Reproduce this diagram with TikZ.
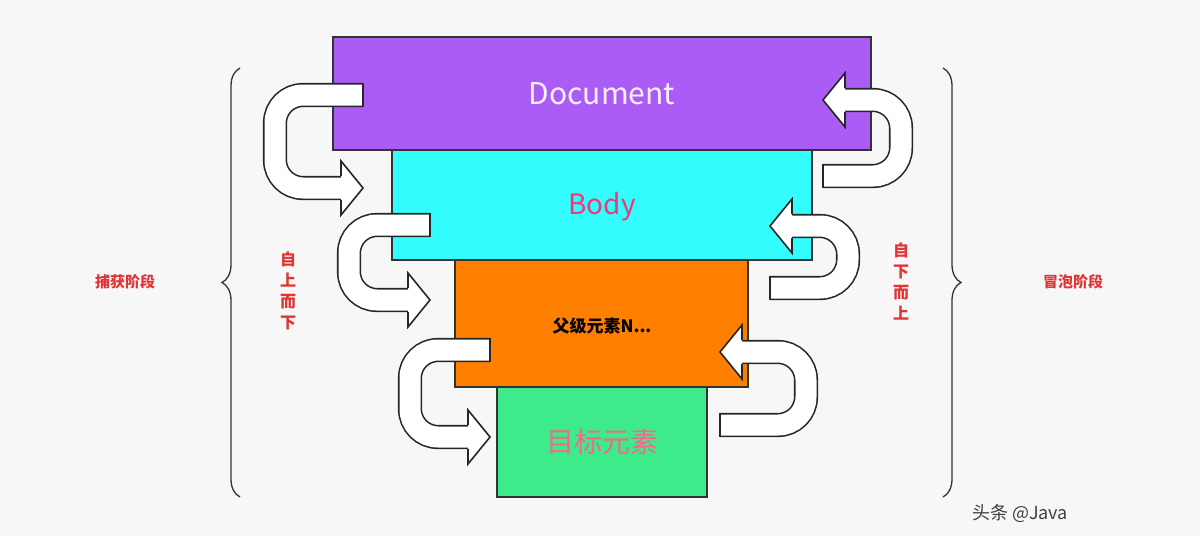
\documentclass[tikz,border=0pt]{standalone}
\usepackage{fontspec}
\setmainfont{Noto Sans CJK SC}
\usetikzlibrary{decorations.pathreplacing}
\definecolor{bg}{HTML}{F7F7F7}
\definecolor{cpurple}{HTML}{AA5CF4}
\definecolor{ccyan}{HTML}{33FCFC}
\definecolor{corange}{HTML}{FF7F00}
\definecolor{cgreen}{HTML}{3DEB8A}
\definecolor{cred}{HTML}{E03535}
\begin{document}
\begin{tikzpicture}[x=1pt,y=-1pt,
  box/.style={draw=black!80,line width=1.5pt,inner sep=0},
  band/.style={draw=black!85,line width=1.6pt,double=white,double distance=21pt,rounded corners=28pt},
  head/.style={draw=black!85,line width=1.6pt,fill=white,line join=miter},
  lab/.style={font=\fontsize{15}{17}\selectfont\bfseries,text=cred}]
\useasboundingbox (0,0) rectangle (1200,536);
\fill[bg] (0,0) rectangle (1200,536);
\draw[box,fill=cpurple] (333,37) rectangle (871,150);
\draw[box,fill=ccyan] (392,150) rectangle (812,260);
\draw[box,fill=corange] (455,260) rectangle (748,387);
\draw[box,fill=cgreen] (497,387) rectangle (707,497);
\node (doc) at (602,94) {\fontsize{30}{34}\selectfont\color{white!90!cpurple}Document};
\node (body) at (602,207) {\fontsize{28}{32}\selectfont\color{magenta!60!red!80!white}Body};
\node (par) at (602,326) {\fontsize{17}{20}\selectfont\bfseries 父级元素N...};
\node (tgt) at (602,442) {\fontsize{28}{32}\selectfont\color{magenta!50!red!60!white}目标元素};
% capture arrows
\foreach \t/\yt/\lx/\yb in {363/95/275/188, 430/225/349/300, 490/350/410/437}{
  \draw[band] (\t,\yt) -- (\lx,\yt) -- (\lx,\yb) -- (\t-20,\yb);
  \draw[black!85,line width=1.6pt] (\t,\yt-12.3) -- (\t,\yt+12.3);
  \draw[head] (\t-22,\yb-12) -- (\t-22,\yb-27) -- (\t,\yb) -- (\t-22,\yb+27) -- (\t-22,\yb+12);
}
% bubble arrows
\foreach \t/\yb/\rx/\yt in {823/176/901/100, 770/288/848/226, 720/425/806/352}{
  \draw[band] (\t,\yb) -- (\rx,\yb) -- (\rx,\yt) -- (\t+20,\yt);
  \draw[black!85,line width=1.6pt] (\t,\yb-12.3) -- (\t,\yb+12.3);
  \draw[head] (\t+22,\yt-12) -- (\t+22,\yt-27) -- (\t,\yt) -- (\t+22,\yt+27) -- (\t+22,\yt+12);
}
\draw[decorate,decoration={brace,amplitude=18pt},line width=1.3pt,black!80] (240,497) -- (240,68);
\draw[decorate,decoration={brace,amplitude=18pt},line width=1.3pt,black!80] (943,68) -- (943,497);
\node[lab] (cap) at (125,282) {捕获阶段};
\node[lab,align=center,font=\fontsize{16}{21}\selectfont\bfseries] (down) at (288,291) {自\\上\\而\\下};
\node[lab] (bub) at (1073,282) {冒泡阶段};
\node[lab,align=center,font=\fontsize{16}{21}\selectfont\bfseries] (up) at (901,282) {自\\下\\而\\上};
\node (wm) at (1020,513) {\fontsize{18}{20}\selectfont\color{black!75}头条 @Java};
\end{tikzpicture}
\end{document}
